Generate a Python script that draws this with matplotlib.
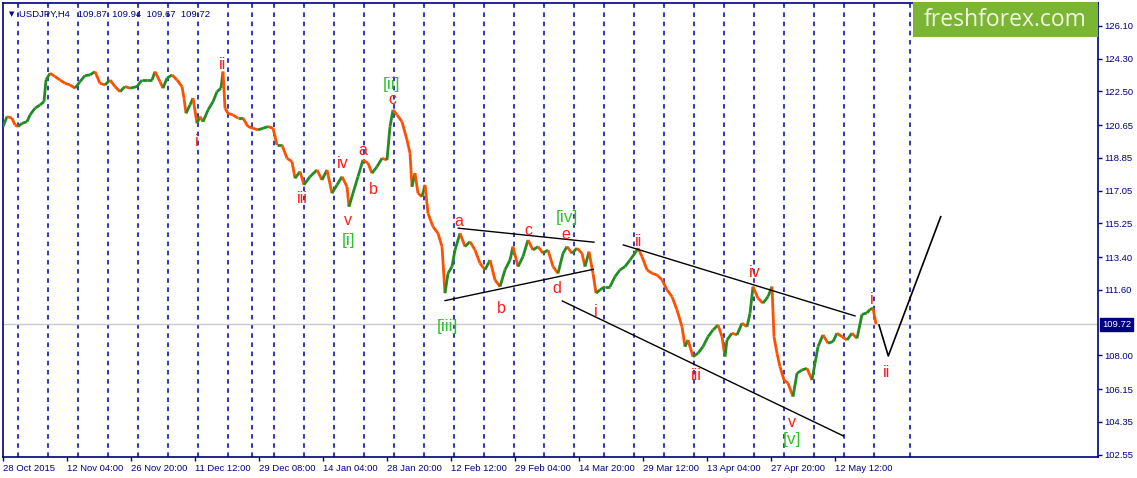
import matplotlib.pyplot as plt
from matplotlib.collections import LineCollection
import matplotlib.transforms as mtransforms

# H4 bar number (0 = 28 Oct 2015) and close prices
bar_x = [0, 4, 9, 12, 15, 19, 24, 27, 32, 37, 41, 43, 47, 52, 57, 62, 67, 72, 77, 82,
         87, 92, 97, 102, 107, 112, 117, 122, 127, 134, 139, 144, 149, 152, 157, 160, 164, 169, 174, 179,
         181, 183, 187, 190, 194, 197, 200, 205, 210, 214, 218, 220, 222, 225, 230, 235, 240, 245, 250, 255,
         260, 265, 270, 274, 279, 284, 289, 292, 297, 301,
         307, 314, 319, 324, 329, 334, 339, 344, 346, 350, 355, 360, 365, 369, 374, 379, 384, 387, 390, 394,
         399, 404, 407, 409, 412, 415, 419, 422, 425, 430, 435, 439, 442, 445, 449, 452, 457, 462, 467, 472,
         477, 482, 487, 492, 497, 502, 507, 510, 515, 520, 525, 530, 535, 540, 545, 550, 555, 560, 564, 569,
         574, 579, 582, 586, 590, 593, 597, 602, 607, 612, 617, 622, 627, 633,
         635, 639, 644, 649, 654, 659, 664, 669, 674, 679, 682, 685, 690, 695, 700, 705, 710, 715, 719, 722,
         724, 729, 734, 739, 744, 747, 750, 755, 760, 765, 769, 771, 774, 777, 781, 785, 790, 794, 799, 804,
         809, 812, 815, 820, 825, 830, 834, 839, 844, 849, 854, 859, 864, 867, 870, 873]
close = [120.57, 121.12, 121.03, 120.66, 120.57, 120.75, 120.84, 121.21, 121.58, 121.76, 121.94, 123.13, 123.50, 123.32, 123.13, 122.95, 122.86, 122.68, 123.04, 123.37,
         123.41, 123.59, 122.95, 122.86, 123.13, 122.77, 122.49, 122.77, 122.68, 122.77, 123.13, 123.13, 123.13, 123.59, 123.04, 122.68, 123.23, 123.41, 123.13, 122.77,
         122.13, 121.30, 121.76, 122.13, 120.75, 121.12, 120.84, 121.48, 121.94, 122.49, 122.68, 123.59, 121.58, 121.30, 121.21, 121.03, 121.03, 120.57, 120.48, 120.39,
         120.48, 120.57, 120.48, 119.56, 119.56, 118.83, 118.65, 117.73, 118.10, 117.37,
         117.82, 118.19, 117.64, 118.19, 116.91, 117.37, 117.82, 117.27, 116.17, 116.91, 117.82, 118.74, 118.56, 118.01, 118.37, 118.83, 118.74, 120.57, 121.49, 121.21,
         120.84, 119.84, 119.11, 117.27, 118.01, 116.91, 116.72, 117.37, 115.81, 115.07, 114.71, 113.98, 111.42, 112.51, 112.88, 113.79, 114.71, 113.98, 114.25, 113.79,
         113.06, 112.70, 113.24, 112.15, 111.78, 112.70, 113.24, 113.98, 112.88, 113.43, 114.34, 113.79, 113.98, 113.61, 113.79, 112.88, 112.51, 113.61, 113.98, 113.61,
         113.89, 113.61, 112.88, 113.70, 112.51, 111.42, 111.60, 111.78, 111.78, 112.33, 112.70, 112.88, 113.24, 113.70,
         113.89, 113.43, 112.70, 112.51, 112.42, 112.15, 111.60, 111.23, 110.50, 109.58, 108.48, 108.85, 107.93, 108.12, 108.48, 109.03, 109.40, 109.67, 109.03, 107.93,
         108.85, 109.22, 109.13, 109.77, 109.58, 110.31, 111.78, 111.14, 110.87, 111.23, 111.78, 109.03, 108.12, 107.38, 106.65, 106.47, 105.74, 107.02, 107.20, 107.29,
         106.65, 107.57, 108.48, 109.13, 108.67, 108.76, 109.22, 109.03, 108.85, 109.22, 108.94, 110.25, 110.34, 110.52, 110.60, 109.72]

date_ticks = [0, 64, 128, 192, 256, 320, 384, 448, 512, 576, 640, 704, 768, 832]
date_labels = ['28 Oct 2015', '12 Nov 04:00', '26 Nov 20:00', '11 Dec 12:00', '29 Dec 08:00',
               '14 Jan 04:00', '28 Jan 20:00', '12 Feb 12:00', '29 Feb 04:00', '14 Mar 20:00',
               '29 Mar 12:00', '13 Apr 04:00', '27 Apr 20:00', '12 May 12:00']
price_ticks = [126.10, 124.30, 122.50, 120.65, 118.85, 117.05, 115.25, 113.40, 111.60,
               108.00, 106.15, 104.35, 102.55]
grid_x = [15.3, 45.3, 75.3, 105.3, 135.3, 165.3, 195.3, 225.3, 248.7, 271.3, 301.3, 331.3,
          361.3, 391.3, 421.3, 451.3, 481.3, 511.3, 541.3, 571.3, 601.3, 631.3, 661.3, 691.3,
          721.3, 751.3, 781.3, 811.3, 841.3, 871.3, 907.3]
last_price = 109.72

# wave labels: bar, price, text
red_labels = [(194, 119.73, 'i'), (219, 123.96, 'ii'), (299, 116.60, 'iii'), (340, 118.52, 'iv'),
              (345, 115.39, 'v'), (360, 119.25, 'a'), (370, 117.09, 'b'), (389, 122.07, 'c'),
              (456, 115.35, 'a'), (498, 110.59, 'b'), (525, 114.86, 'c'), (554, 111.69, 'd'),
              (563, 114.67, 'e'), (593, 110.40, 'i'), (636, 114.25, 'ii'), (693, 106.87, 'iii'),
              (752, 112.55, 'iv'), (789, 104.31, 'v'), (869, 111.05, 'i'), (884, 107.05, 'ii')]
green_labels = [(346, 114.34, '[i]'), (389, 122.91, '[ii]'), (444, 109.58, '[iii]'),
                (564, 115.59, '[iv]'), (789, 103.36, '[v]')]

# hand drawn lines: (x0, y0, x1, y1)
trend_lines = [(455.3, 114.99, 591, 114.22),
               (442, 111.01, 590.3, 112.73),
               (559.3, 110.99, 840.3, 103.58),
               (620.3, 114.07, 852, 110.17)]
forecast_x = [876, 885.3, 937.7]
forecast_y = [109.67, 107.97, 115.62]

navy = '#000080'
plt.rcParams['font.family'] = ['Liberation Sans', 'DejaVu Sans']

fig = plt.figure(figsize=(11.37, 4.78), dpi=100)
ax = fig.add_axes([3 / 1137, 21 / 478, 1095 / 1137, 454 / 478])
ax.set_xlim(0, 1095)
ax.set_ylim(102.42, 127.36)

for gx in grid_x:
    ax.axvline(gx, color='#0000a0', lw=1.1, ls=(0, (3, 3)), zorder=1)
ax.axhline(last_price, color='#c8c8c8', lw=1, zorder=1)

# price path, coloured by direction
segs, cols = [], []
for i in range(len(close) - 1):
    segs.append([(bar_x[i], close[i]), (bar_x[i + 1], close[i + 1])])
    cols.append('#228b22' if close[i + 1] >= close[i] else '#ff5000')
ax.add_collection(LineCollection(segs, colors=cols, linewidths=2.0, zorder=3))

for x0, y0, x1, y1 in trend_lines:
    ax.plot([x0, x1], [y0, y1], color='black', lw=1, zorder=4)
ax.plot(forecast_x, forecast_y, color='black', lw=1.2, zorder=4)

for x, y, t in red_labels:
    ax.text(x, y, t, color='#ff1a1a', fontsize=11.5, ha='center', va='center', zorder=5)
for x, y, t in green_labels:
    ax.text(x, y, t, color='#2fc22f', fontsize=12.5, ha='center', va='center', zorder=5)

# axes styling like the terminal
for s in ax.spines.values():
    s.set_color(navy)
    s.set_linewidth(1.2)
ax.yaxis.tick_right()
ax.set_yticks(price_ticks)
ax.set_yticklabels([f'{p:.2f}' for p in price_ticks])
ax.set_xticks(date_ticks)
ax.set_xticklabels(date_labels, ha='left')
ax.tick_params(axis='both', colors=navy, labelsize=6.8, length=3, width=1, pad=2)
ax.tick_params(axis='y', pad=1.5)

# current price tag
trans = mtransforms.blended_transform_factory(ax.transAxes, ax.transData)
ax.text(1.0035, last_price, f'{last_price:.2f}', transform=trans, color='white', fontsize=6.8,
        ha='left', va='center', bbox=dict(boxstyle='square,pad=0.22', fc=navy, ec=navy))

# header
ax.text(0.0075, 0.982, '\u25bc', transform=ax.transAxes, fontsize=5, color=navy,
        family='DejaVu Sans', ha='center', va='top')
ax.text(0.0145, 0.985, 'USDJPY,H4   109.87  109.94  109.67  109.72', transform=ax.transAxes,
        fontsize=6.8, color=navy, ha='left', va='top')

# logo box
fig.patches.append(plt.Rectangle((913 / 1137, 441 / 478), 185 / 1137, 35 / 478,
                                 transform=fig.transFigure, fc='#7ab534', ec='none', zorder=10))
fig.text(1005 / 1137, 458 / 478, 'freshforex.com', color='#f2f7e0', fontsize=16.5,
         family='Open Sans', ha='center', va='center', zorder=11)

fig.savefig('out.png', dpi=100)
